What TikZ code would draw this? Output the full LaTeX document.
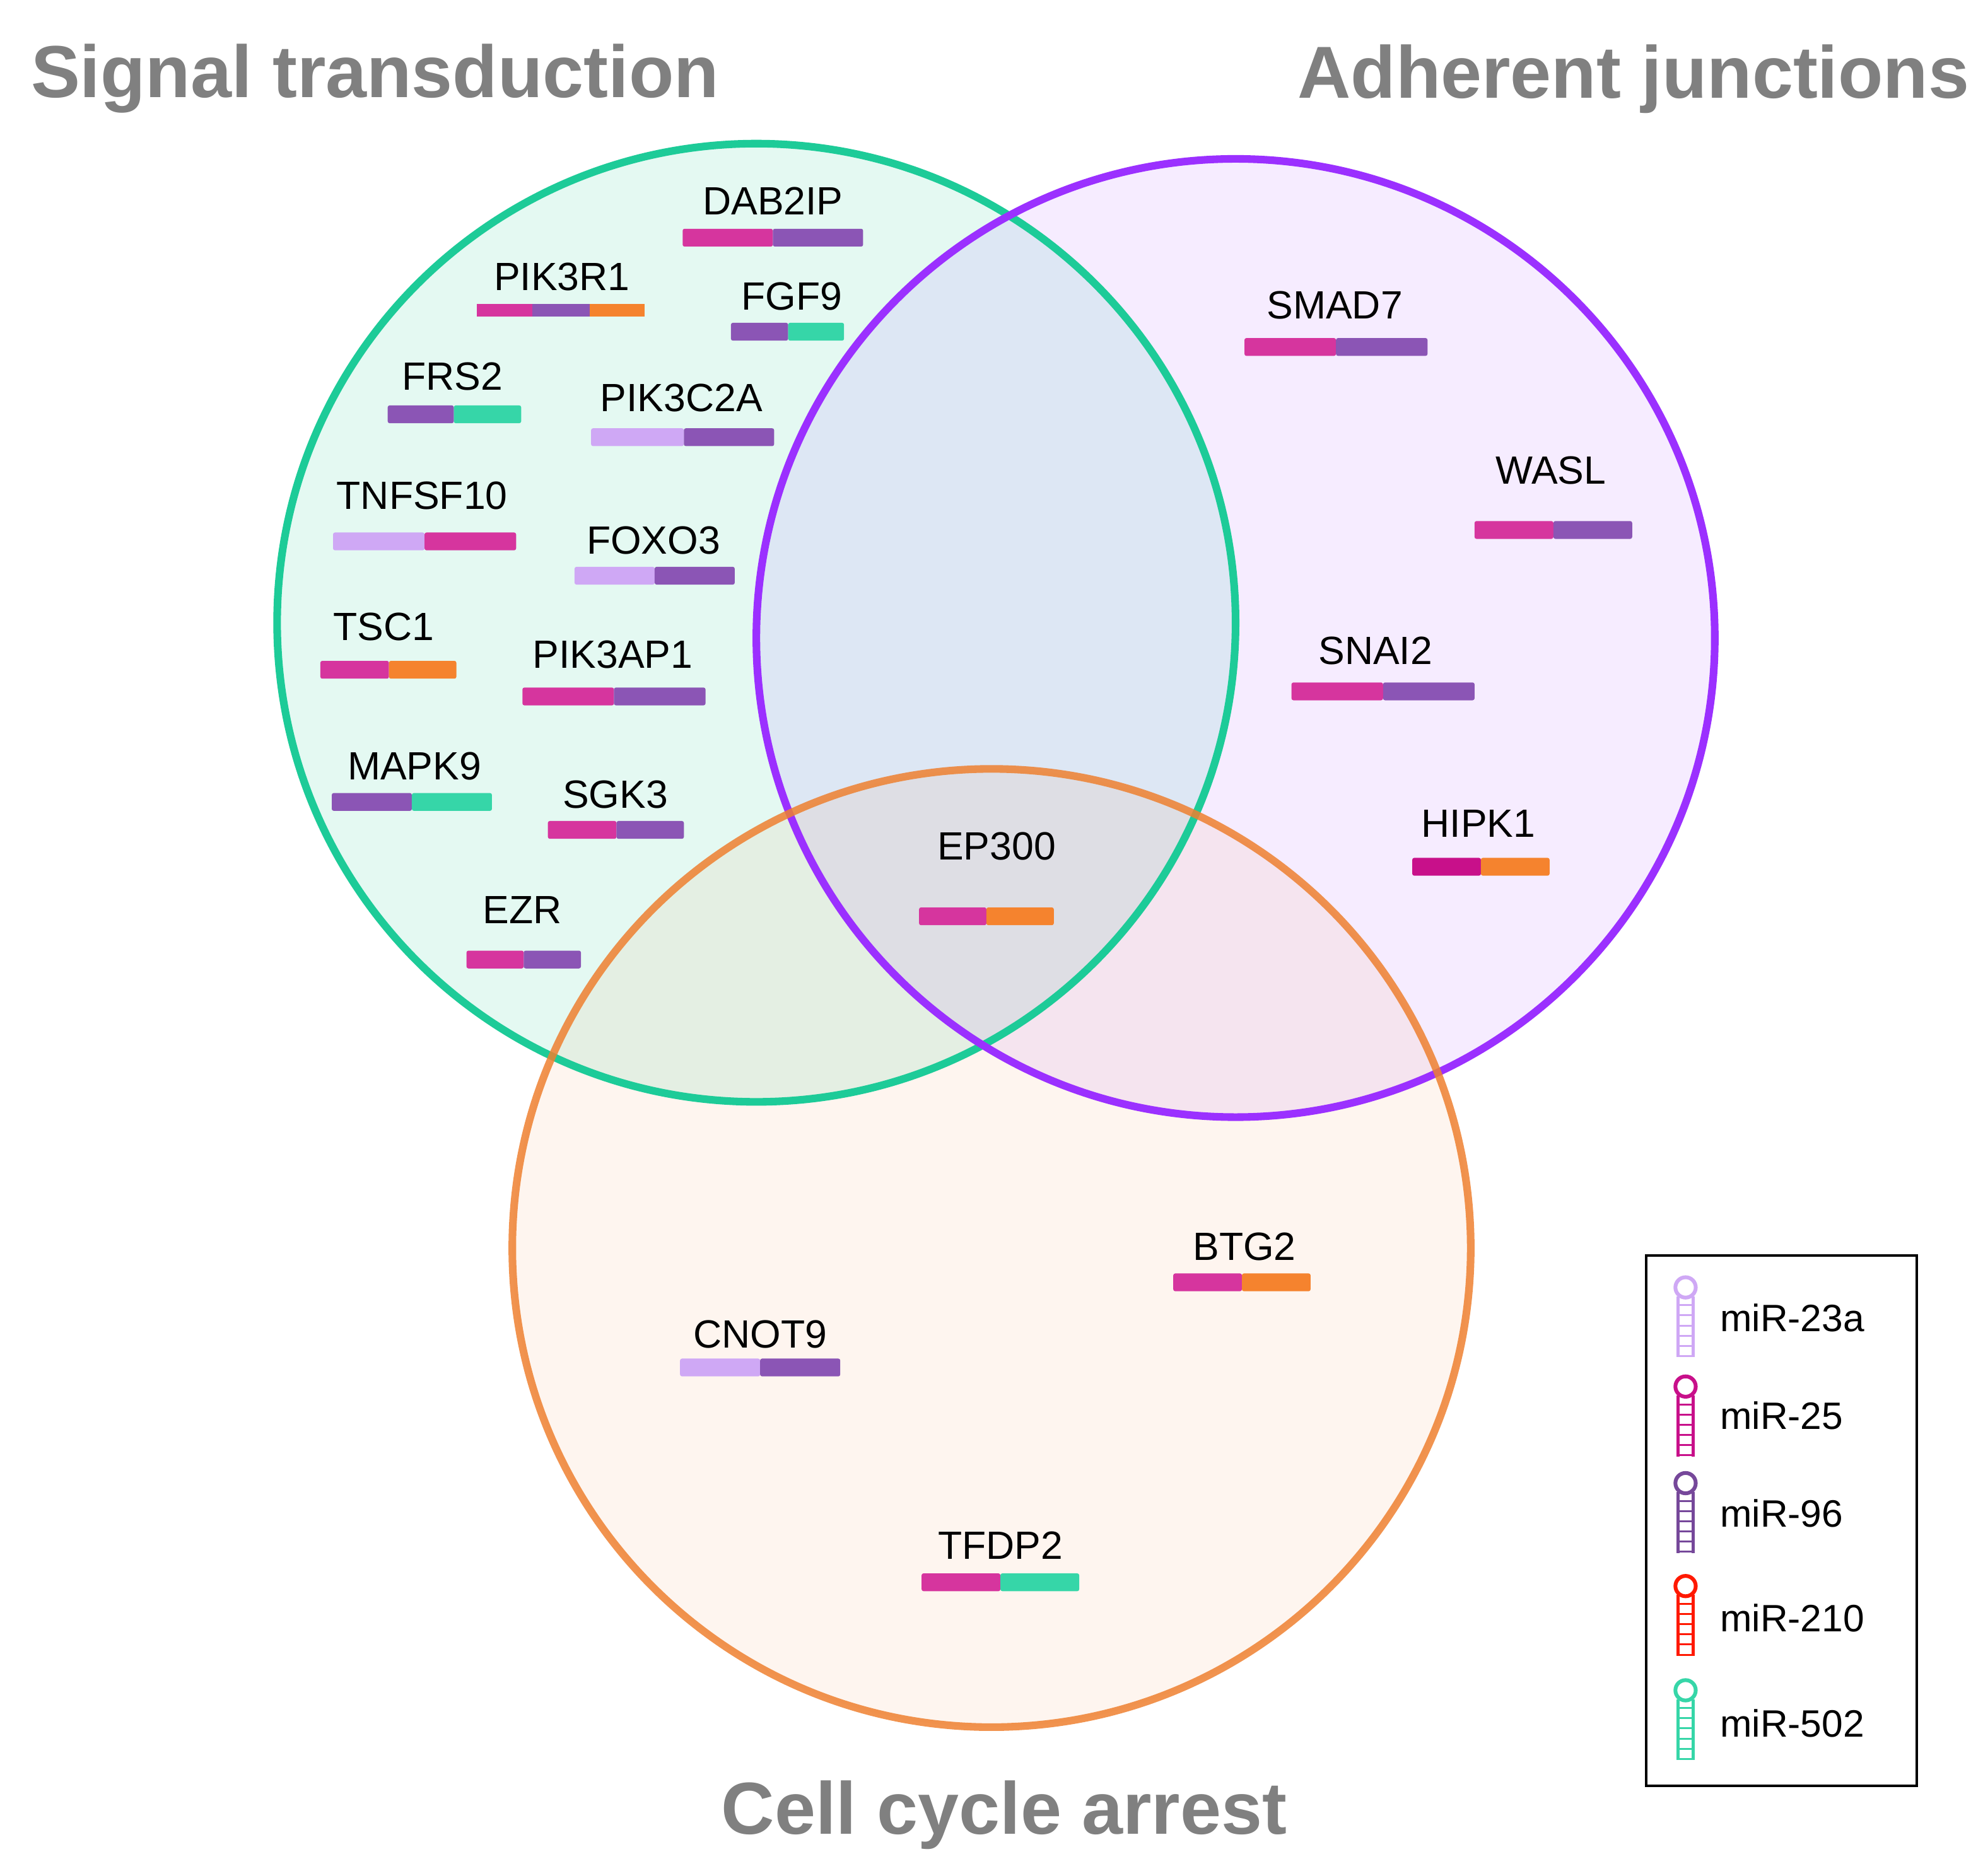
\documentclass[tikz,border=0pt]{standalone}
\usepackage{fontspec}
\setmainfont{Liberation Sans}
\definecolor{cG}{HTML}{1DCB98}
\definecolor{cP}{HTML}{9B30FF}
\definecolor{cO}{HTML}{EE8030}
\definecolor{bM}{HTML}{D6359E}
\definecolor{bP}{HTML}{8B55B5}
\definecolor{bL}{HTML}{CFA8F5}
\definecolor{bO}{HTML}{F5832E}
\definecolor{bG}{HTML}{36D6A8}
\definecolor{bDM}{HTML}{C8108A}
\definecolor{tG}{HTML}{808080}
\newcommand\gbar[4]{\fill[#4,rounded corners=1.5pt] (#1,#3-7) rectangle (#2,#3+7);}
\newcommand\hairpin[3]{%
 \draw[#3,line width=3pt] (#1,#2) circle (8);
 \draw[#3,line width=2.5pt] (#1-6,#2+7) -- (#1-6,#2+55) (#1+6,#2+7) -- (#1+6,#2+55);
 \foreach \k in {14,22,...,54} \draw[#3,line width=1.5pt] (#1-6,#2+\k) -- (#1+6,#2+\k);}
\begin{document}
\begin{tikzpicture}[x=1pt,y=-1pt,
  gl/.style={font=\fontsize{31}{36}\selectfont,inner sep=0pt},
  tt/.style={font=\fontsize{58}{66}\selectfont\bfseries,text=tG,inner sep=0pt},
  lg/.style={font=\fontsize{30}{36}\selectfont,anchor=west,inner sep=0pt}]
\useasboundingbox (0,0) rectangle (1560,1476);
\fill[cG,opacity=0.12] (595,490) circle (377);
\fill[cP,opacity=0.09] (972,502) circle (377);
\fill[cO,opacity=0.08] (780,982) circle (377);
\draw[cG,line width=6pt] (595,490) circle (377);
\draw[cP,line width=6pt] (972,502) circle (377);
\draw[cO,line width=6pt,opacity=0.85] (780,982) circle (377);
\node[tt] (t1) at (295,62) {Signal transduction};
\node[tt] (t2) at (1285,62) {Adherent junctions};
\node[tt] (t3) at (790,1428) {Cell cycle arrest};
% genes
\node[gl] (g1) at (608,158) {DAB2IP}; \gbar{537}{608}{187}{bM}\gbar{608}{679}{187}{bP}
\node[gl] (g2) at (442,218) {PIK3R1}; \fill[bM] (375,239) rectangle (419,249); \fill[bP] (419,239) rectangle (464,249); \fill[bO] (464,239) rectangle (507,249);
\node[gl] (g3) at (623,233) {FGF9}; \gbar{575}{620}{261}{bP}\gbar{620}{664}{261}{bG}
\node[gl] (g4) at (356,296) {FRS2}; \gbar{305}{357}{326}{bP}\gbar{357}{410}{326}{bG}
\node[gl] (g5) at (536,313) {PIK3C2A}; \gbar{465}{538}{344}{bL}\gbar{538}{609}{344}{bP}
\node[gl] (g6) at (332,390) {TNFSF10}; \gbar{262}{334}{426}{bL}\gbar{334}{406}{426}{bM}
\node[gl] (g7) at (514,425) {FOXO3}; \gbar{452}{515}{453}{bL}\gbar{515}{578}{453}{bP}
\node[gl] (g8) at (302,493) {TSC1}; \gbar{252}{306}{527}{bM}\gbar{306}{359}{527}{bO}
\node[gl] (g9) at (482,515) {PIK3AP1}; \gbar{411}{483}{548}{bM}\gbar{483}{555}{548}{bP}
\node[gl] (g10) at (326,603) {MAPK9}; \gbar{261}{324}{631}{bP}\gbar{324}{387}{631}{bG}
\node[gl] (g11) at (484,625) {SGK3}; \gbar{431}{485}{653}{bM}\gbar{485}{538}{653}{bP}
\node[gl] (g12) at (411,716) {EZR}; \gbar{367}{412}{755}{bM}\gbar{412}{457}{755}{bP}
\node[gl] (g13) at (1050,240) {SMAD7}; \gbar{979}{1051}{273}{bM}\gbar{1051}{1123}{273}{bP}
\node[gl] (g14) at (1220,370) {WASL}; \gbar{1160}{1222}{417}{bM}\gbar{1222}{1284}{417}{bP}
\node[gl] (g15) at (1082,512) {SNAI2}; \gbar{1016}{1088}{544}{bM}\gbar{1088}{1160}{544}{bP}
\node[gl] (g16) at (1163,648) {HIPK1}; \gbar{1111}{1165}{682}{bDM}\gbar{1165}{1219}{682}{bO}
\node[gl] (g17) at (784,666) {EP300}; \gbar{723}{776}{721}{bM}\gbar{776}{829}{721}{bO}
\node[gl] (g18) at (979,981) {BTG2}; \gbar{923}{977}{1009}{bM}\gbar{977}{1031}{1009}{bO}
\node[gl] (g19) at (598,1050) {CNOT9}; \gbar{535}{598}{1076}{bL}\gbar{598}{661}{1076}{bP}
\node[gl] (g20) at (787,1216) {TFDP2}; \gbar{725}{787}{1245}{bM}\gbar{787}{849}{1245}{bG}
% legend
\draw[black,line width=2pt] (1295,988) rectangle (1508,1405);
\hairpin{1326}{1013}{bL}\node[lg] (l1) at (1353,1037) {miR-23a};
\hairpin{1326}{1091}{bDM}\node[lg] (l2) at (1353,1114) {miR-25};
\hairpin{1326}{1167}{bP!85!black}\node[lg] (l3) at (1353,1191) {miR-96};
\hairpin{1326}{1248}{red!80!orange}\node[lg] (l4) at (1353,1273) {miR-210};
\hairpin{1326}{1330}{bG}\node[lg] (l5) at (1353,1356) {miR-502};
\end{tikzpicture}
\end{document}
